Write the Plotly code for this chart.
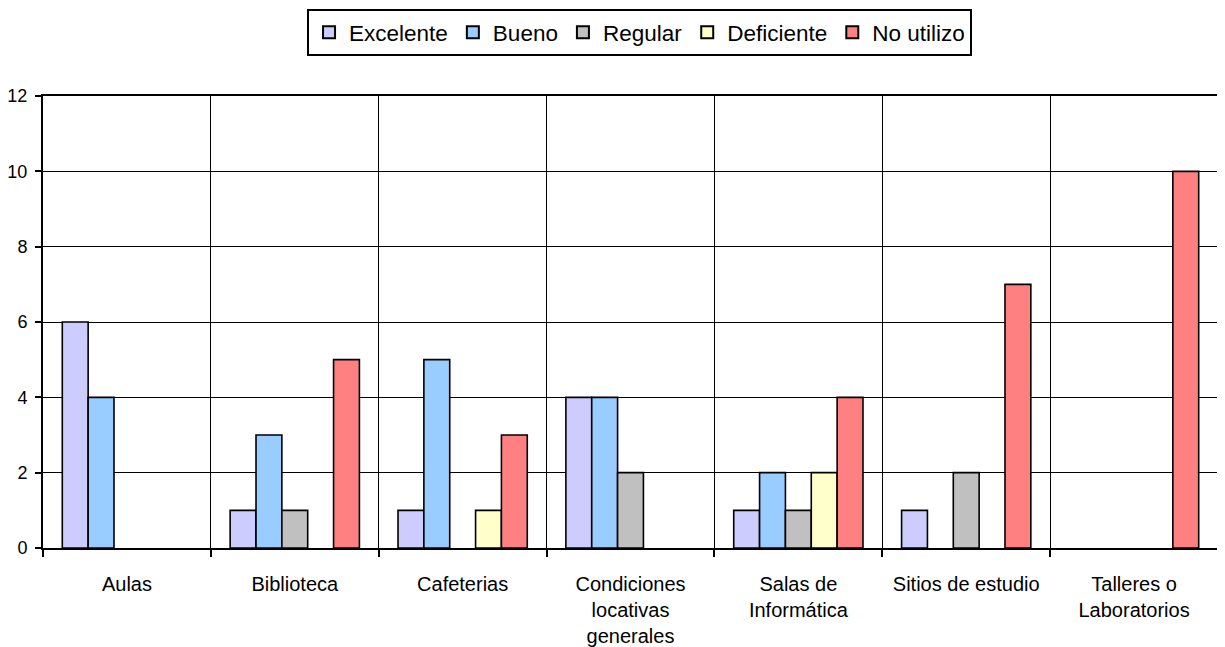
import plotly.graph_objects as go

categories = ["Aulas", "Biblioteca", "Cafeterias", "Condiciones<br>locativas<br>generales",
              "Salas de<br>Informática", "Sitios de estudio", "Talleres o<br>Laboratorios"]
series_names = ["Excelente", "Bueno", "Regular", "Deficiente", "No utilizo"]
excelente = [6, 1, 1, 4, 1, 1, 0]
bueno = [4, 3, 5, 4, 2, 0, 0]
regular = [0, 1, 0, 2, 1, 2, 0]
deficiente = [0, 0, 1, 0, 2, 0, 0]
no_utilizo = [0, 5, 3, 0, 4, 7, 10]
colors = ["#CCCCFF", "#99CCFF", "#C0C0C0", "#FFFFCC", "#FF8080"]
y_ticks = [0, 2, 4, 6, 8, 10, 12]

fig = go.Figure()
for name, vals, col in zip(series_names, [excelente, bueno, regular, deficiente, no_utilizo], colors):
    shown = [v if v != 0 else None for v in vals]
    fig.add_trace(go.Bar(x=categories, y=shown, name=name,
                         marker=dict(color=col, line=dict(color="black", width=1.6))))

# page body has an 8px default margin, so the figure is sized/offset accordingly
fig.update_layout(
    width=1217, height=639,
    margin=dict(l=35, r=7, t=88, b=99, autoexpand=False),
    paper_bgcolor="white", plot_bgcolor="white",
    barmode="group", bargap=0.23, bargroupgap=0,
    font=dict(family="Liberation Sans, Arial, sans-serif", color="black", size=20),
    legend=dict(orientation="h", x=0.5077, xanchor="center", y=1.192, yanchor="top",
                bordercolor="black", borderwidth=2, font=dict(size=22.5),
                itemsizing="constant", tracegroupgap=0, itemwidth=30),
    showlegend=True,
)
fig.update_xaxes(type="category", tickson="boundaries", showgrid=True, gridcolor="black", gridwidth=1.3,
                 showline=True, linecolor="black", linewidth=2, mirror=True, automargin=False,
                 ticks="outside", ticklen=7, tickcolor="black", tickwidth=1.5,
                 tickfont=dict(size=20), ticklabelstandoff=17)
fig.update_yaxes(range=[0, 12], tickvals=y_ticks, showgrid=True, gridcolor="black", gridwidth=1.3,
                 showline=True, linecolor="black", linewidth=2, mirror=True, automargin=False,
                 ticks="outside", ticklen=6, tickcolor="black", tickwidth=1.5,
                 tickfont=dict(size=18), zeroline=False, ticklabelstandoff=4)

fig.write_html("out.html")
